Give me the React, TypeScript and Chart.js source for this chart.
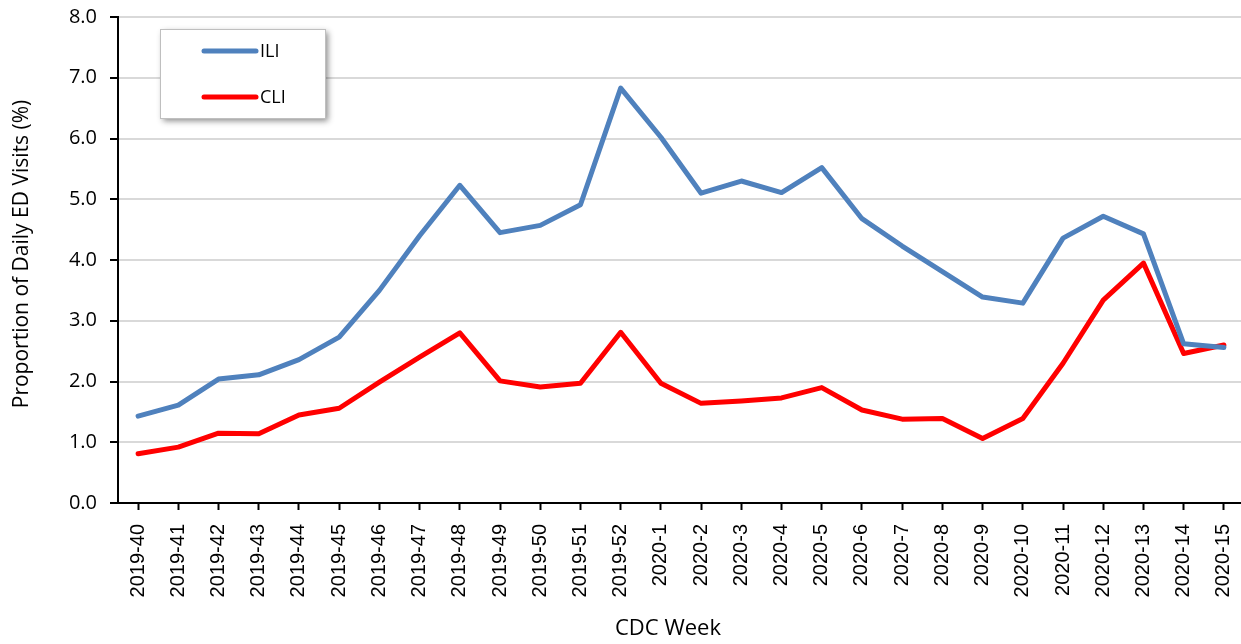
import React, { useEffect, useRef } from "react";
import { Chart, registerables } from "chart.js";

Chart.register(...registerables);

const weeks: string[] = [
  "2019-40", "2019-41", "2019-42", "2019-43", "2019-44", "2019-45", "2019-46",
  "2019-47", "2019-48", "2019-49", "2019-50", "2019-51", "2019-52",
  "2020-1", "2020-2", "2020-3", "2020-4", "2020-5", "2020-6", "2020-7",
  "2020-8", "2020-9", "2020-10", "2020-11", "2020-12", "2020-13", "2020-14", "2020-15",
];

const iliValues: number[] = [
  1.43, 1.61, 2.04, 2.11, 2.36, 2.73, 3.50, 4.40, 5.23, 4.45, 4.57, 4.91, 6.83,
  6.02, 5.10, 5.30, 5.11, 5.52, 4.68, 4.23, 3.81, 3.39, 3.29, 4.36, 4.72, 4.43, 2.62, 2.56,
];

const cliValues: number[] = [
  0.81, 0.92, 1.15, 1.14, 1.45, 1.56, 1.99, 2.40, 2.80, 2.01, 1.91, 1.97, 2.81,
  1.97, 1.64, 1.68, 1.73, 1.90, 1.53, 1.38, 1.39, 1.06, 1.39, 2.30, 3.34, 3.95, 2.46, 2.60,
];

const yTicks: number[] = [0, 1, 2, 3, 4, 5, 6, 7, 8];

const xTitle = "CDC Week";
const yTitle = "Proportion of Daily ED Visits (%)";

const ILI_COLOR = "#4f81bd";
const CLI_COLOR = "#ff0000";

const overlayPlugin = {
  id: "overlay",
  afterDraw(chart: any) {
    const ctx = chart.ctx;
    // axis titles
    ctx.save();
    ctx.fillStyle = "#000";
    ctx.font = "21px 'Open Sans'";
    ctx.textAlign = "center";
    ctx.textBaseline = "middle";
    ctx.save();
    ctx.translate(22, 254);
    ctx.rotate(-Math.PI / 2);
    ctx.fillText(yTitle, 0, 0);
    ctx.restore();
    ctx.font = "22px 'Open Sans'";
    ctx.fillText(xTitle, 668, 629);
    ctx.restore();

    // legend box
    const x = 160, y = 29, w = 165, h = 89;
    ctx.save();
    ctx.shadowColor = "rgba(0,0,0,0.45)";
    ctx.shadowBlur = 6;
    ctx.shadowOffsetX = 3;
    ctx.shadowOffsetY = 3;
    ctx.fillStyle = "#ffffff";
    ctx.fillRect(x, y, w, h);
    ctx.restore();
    ctx.save();
    ctx.strokeStyle = "#bfbfbf";
    ctx.lineWidth = 1;
    ctx.strokeRect(x + 0.5, y + 0.5, w, h);
    const items = chart.data.datasets;
    const rows = [51, 97];
    items.forEach((ds: any, i: number) => {
      ctx.strokeStyle = ds.borderColor;
      ctx.lineWidth = 5;
      ctx.lineCap = "round";
      ctx.beginPath();
      ctx.moveTo(204, rows[i]);
      ctx.lineTo(256, rows[i]);
      ctx.stroke();
      ctx.fillStyle = "#000";
      ctx.font = "18px 'Open Sans'";
      ctx.textBaseline = "middle";
      ctx.textAlign = "left";
      ctx.fillText(ds.label, 260, rows[i] + 1);
    });
    ctx.restore();
  },
};

export default function App() {
  const ref = useRef<HTMLCanvasElement | null>(null);
  useEffect(() => {
    document.body.style.margin = "0";
    const canvas = ref.current!;
    const chart = new Chart(canvas, {
      type: "line",
      data: {
        labels: weeks,
        datasets: [
          {
            label: "ILI",
            data: iliValues,
            borderColor: ILI_COLOR,
            backgroundColor: ILI_COLOR,
            borderWidth: 5,
            pointRadius: 0,
            borderJoinStyle: "round",
            borderCapStyle: "round",
            tension: 0,
          },
          {
            label: "CLI",
            data: cliValues,
            borderColor: CLI_COLOR,
            backgroundColor: CLI_COLOR,
            borderWidth: 5,
            pointRadius: 0,
            borderJoinStyle: "round",
            borderCapStyle: "round",
            tension: 0,
          },
        ],
      },
      options: {
        responsive: false,
        animation: false,
        events: [],
        layout: { padding: { top: 17, right: 0, left: 0, bottom: 0 } },
        plugins: {
          legend: { display: false },
          tooltip: { enabled: false },
        },
        scales: {
          x: {
            offset: true,
            grid: {
              drawOnChartArea: false,
              drawTicks: true,
              tickLength: 7,
              tickColor: "#000",
              tickWidth: 2,
              offset: false,
            },
            border: { color: "#000", width: 2 },
            ticks: {
              autoSkip: false,
              maxRotation: 90,
              minRotation: 90,
              color: "#000",
              font: { family: "Liberation Sans", size: 20 },
              padding: 14,
            },
            afterFit: (s: any) => {
              s.height = 141;
              s.paddingLeft = 0;
              s.paddingRight = 0;
            },
          },
          y: {
            min: 0,
            max: 8,
            afterBuildTicks: (s: any) => { s.ticks = yTicks.map((v) => ({ value: v })); },
            grid: {
              color: "#d9d9d9",
              lineWidth: 2,
              drawTicks: true,
              tickLength: 8,
              tickColor: "#000",
              tickWidth: 2,
            },
            border: { color: "#000", width: 2 },
            ticks: {
              color: "#000",
              font: { family: "Open Sans", size: 20 },
              padding: 13,
              callback: (v: any) => Number(v).toFixed(1),
            },
            afterFit: (s: any) => {
              s.width = 118;
              s.paddingTop = 0;
              s.paddingBottom = 0;
            },
          },
        },
      },
      plugins: [overlayPlugin],
    });
    return () => chart.destroy();
  }, []);
  return (
    <div style={{ width: 1241, height: 644, overflow: "hidden" }}>
      <canvas ref={ref} width={1244} height={644} style={{ display: "block" }} />
    </div>
  );
}
